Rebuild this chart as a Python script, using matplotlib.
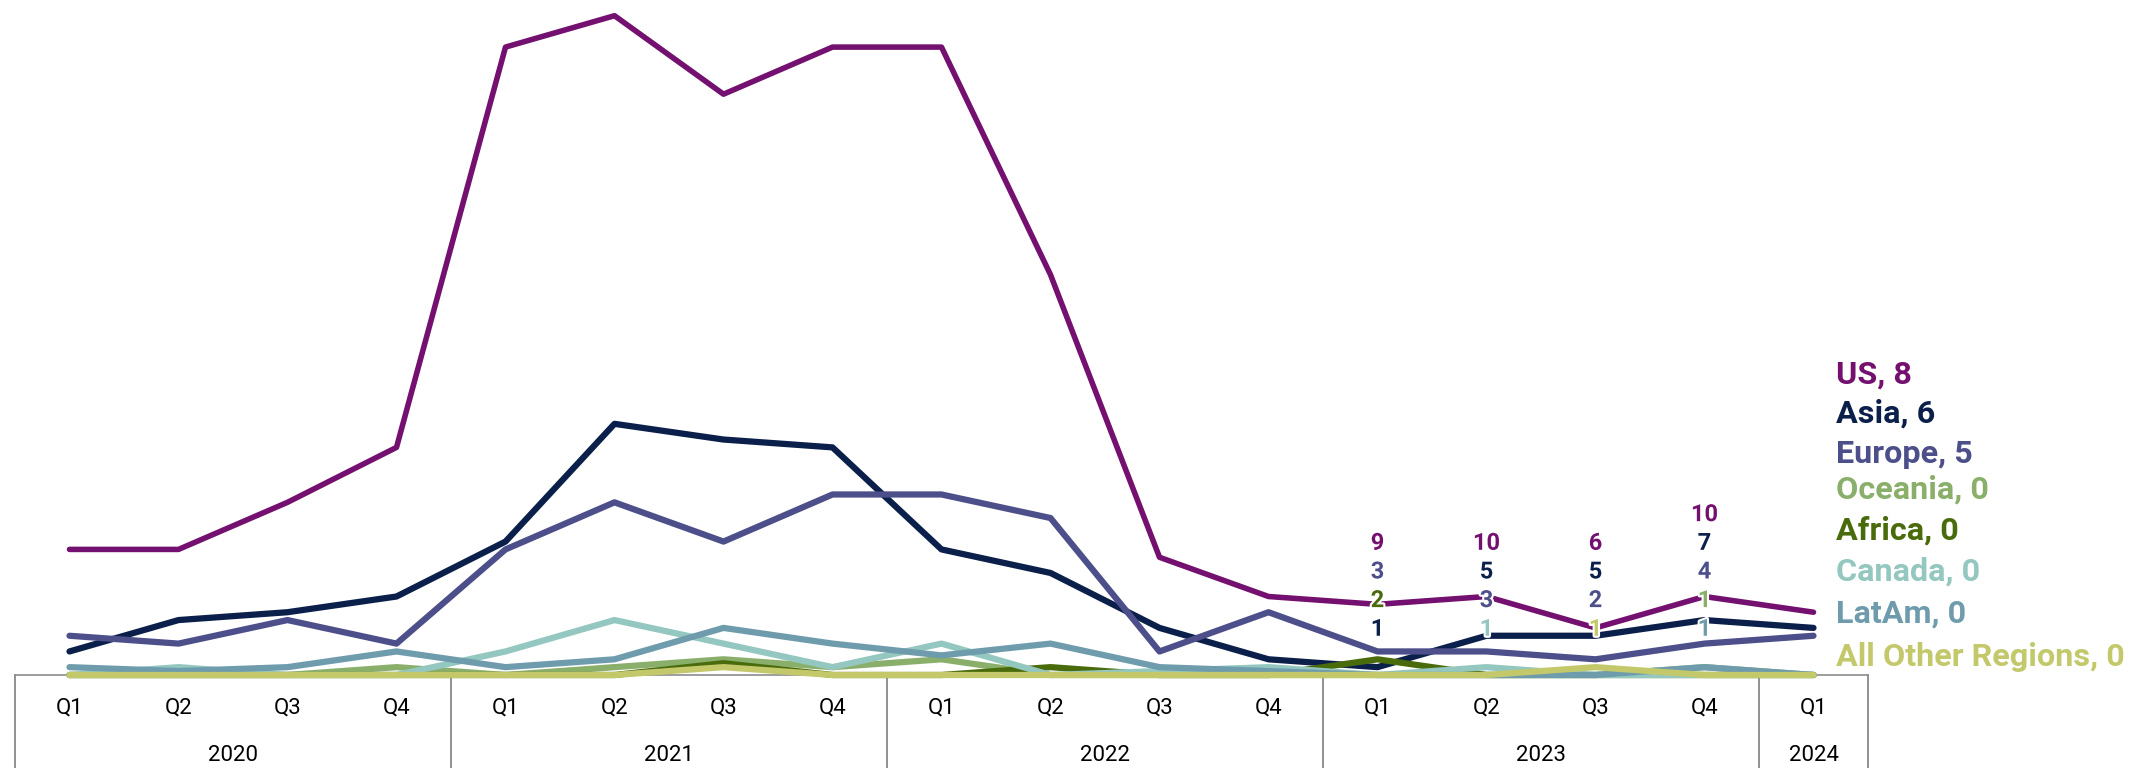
import matplotlib
matplotlib.use("Agg")
import matplotlib.pyplot as plt
import matplotlib.patheffects as pe
from matplotlib import transforms

plt.rcParams['font.family'] = ['Roboto', 'DejaVu Sans']

# axis categories
quarters = ["Q1", "Q2", "Q3", "Q4"] * 4 + ["Q1"]
years = ["2020", "2021", "2022", "2023", "2024"]
quarters_per_year = [4, 4, 4, 4, 1]

# series, one value per quarter (2020 Q1 .. 2024 Q1)
regions = ["US", "Asia", "Europe", "Oceania", "Africa", "Canada", "LatAm", "All Other Regions"]
us      = [16, 16, 22, 29, 80, 84, 74, 80, 80, 51, 15, 10, 9, 10, 6, 10, 8]
asia    = [3, 7, 8, 10, 17, 32, 30, 29, 16, 13, 6, 2, 1, 5, 5, 7, 6]
europe  = [5, 4, 7, 4, 16, 22, 17, 23, 23, 20, 3, 8, 3, 3, 2, 4, 5]
oceania = [0, 0, 0, 1, 0, 1, 2, 1, 2, 0, 0, 0, 0, 0, 0, 1, 0]
africa  = [0, 0, 0, 0, 0, 0, 1.5, 0, 0, 1, 0, 0, 2, 0, 0, 0, 0]
canada  = [0, 1, 0, 0, 3, 7, 4, 1, 4, 0, 0.5, 1, 0, 1, 0, 0, 0]
latam   = [1, 0.5, 1, 3, 1, 2, 6, 4, 2.5, 4, 1, 0.5, 0, 0, 0, 1, 0]
other   = [0, 0, 0, 0, 0, 0, 1, 0, 0, 0, 0, 0, 0, 0, 1, 0, 0]

series = [us, asia, europe, oceania, africa, canada, latam, other]
colors = ["#74106F", "#0B1F4B", "#4D4F8A", "#8AAF6B", "#4A6B0B", "#93C7BF", "#6F9CAD", "#C3C96B"]

# layout bits
label_quarters = [12, 13, 14, 15]          # 2023 quarters get value labels
row_base, row_step = 5.0, 3.65             # baseline of stacked value labels (data units)
end_label_y = [37.07, 32.14, 27.04, 22.5, 17.29, 12.04, 6.66, 1.15]
draw_order = [0, 1, 2, 4, 3, 6, 5, 7]
grey = "#8C8C8C"

fig = plt.figure(figsize=(21.44, 7.68), dpi=100)
ax = fig.add_axes([15 / 2144, 93 / 768, 1853 / 2144, 675 / 768])

x = list(range(len(quarters)))
for i in draw_order:
    ax.plot(x, series[i], color=colors[i], lw=4.0 if i == 0 else 4.5, solid_joinstyle="round",
            solid_capstyle="round", clip_on=False, zorder=3 + i * 0.1)

ax.set_xlim(-0.5, len(quarters) - 0.5)
ax.set_ylim(0, 86)

for s in ["top", "right", "left"]:
    ax.spines[s].set_visible(False)
ax.spines["bottom"].set_color(grey)
ax.spines["bottom"].set_linewidth(1.2)
ax.set_yticks([])
ax.set_xticks([])

# two level category axis
xtrans = ax.get_xaxis_transform()
q_trans = transforms.offset_copy(xtrans, fig=fig, y=-39, units="dots")
y_trans = transforms.offset_copy(xtrans, fig=fig, y=-85.7, units="dots")
for xi, q in zip(x, quarters):
    ax.text(xi, 0, q, transform=q_trans, ha="center", va="baseline", fontsize=16, color="#000000")

start = 0
bounds = [-0.5]
for yr, n in zip(years, quarters_per_year):
    ax.text(start + (n - 1) / 2, 0, yr, transform=y_trans, ha="center", va="baseline",
            fontsize=16, color="#000000")
    start += n
    bounds.append(start - 0.5)
for b in bounds:
    ax.plot([b, b], [0, -93 / 675], transform=xtrans, color="#7F7F7F", lw=1.2, clip_on=False)

# stacked value labels for 2023
halo = [pe.withStroke(linewidth=3, foreground="white")]
for q in label_quarters:
    vals = [(series[i][q], i) for i in range(len(series)) if series[i][q] > 0]
    vals.sort(key=lambda t: -t[0])
    for row, (v, i) in enumerate(reversed(vals)):
        ax.text(q, row_base + row * row_step, f"{v:g}", ha="center", va="baseline",
                fontsize=17, fontweight="bold", color=colors[i], path_effects=halo, zorder=10)

# series names at the right end
last = len(quarters) - 1
for i, name in enumerate(regions):
    ax.text(last + 0.21, end_label_y[i], f"{name}, {series[i][last]:g}", ha="left", va="baseline",
            fontsize=23.3, fontweight="bold", color=colors[i], zorder=10)

fig.savefig("out.png", dpi=100)
